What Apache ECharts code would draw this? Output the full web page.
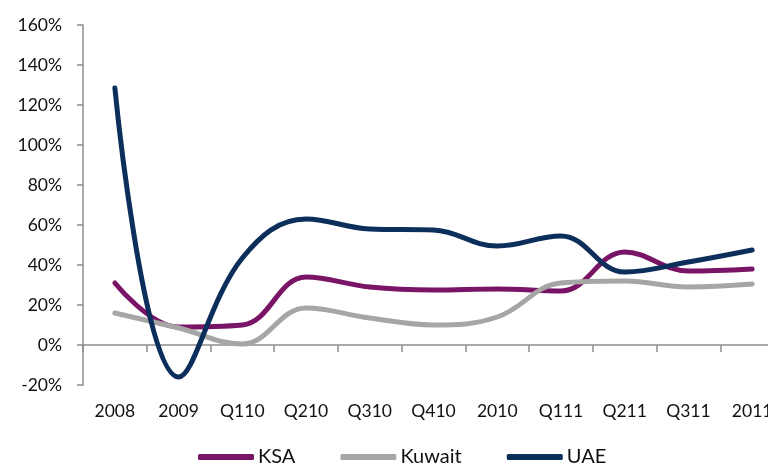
<!DOCTYPE html>
<html>
<head>
<meta charset="utf-8">
<style>
  html, body { margin: 0; padding: 0; background: #fff; }
  #chart { width: 768px; height: 467px; }
</style>
<script src="https://cdn.jsdelivr.net/npm/echarts@6/dist/echarts.min.js"></script>
</head>
<body>
<div id="chart"></div>
<script>
// Period labels along the x axis
const periods = ['2008', '2009', 'Q110', 'Q210', 'Q310', 'Q410', '2010', 'Q111', 'Q211', 'Q311', '2011'];

// Growth rates (%) per market
const ksa    = [31, 9, 10, 34, 29, 27.5, 28, 27, 46.5, 37, 38];
const kuwait = [16, 8.5, 0.5, 18.5, 13.5, 10, 14, 31, 32, 29, 30.5];
const uae    = [128.5, -16, 43.5, 63, 58, 57.5, 49.5, 54.5, 36.5, 41.5, 47.5];

// Y-axis range and step (%)
const yMin = -20, yMax = 160, yStep = 20;

const FONT = 'Lato, "Open Sans", sans-serif';
const AXIS_GREY = '#8c8c8c';

const chart = echarts.init(document.getElementById('chart'));

function lineSeries(name, data, color) {
  return {
    name: name,
    type: 'line',
    data: data,
    smooth: 0.4,
    symbol: 'none',
    lineStyle: { width: 5, color: color, cap: 'round', join: 'round' },
    itemStyle: { color: color }
  };
}

chart.setOption({
  animation: false,
  backgroundColor: '#ffffff',
  // the plot runs slightly past the right edge of the canvas
  grid: {
    left: 83, top: 25, height: 360, width: 701,
    containLabel: false,
    outerBoundsMode: 'none'
  },
  legend: {
    left: 193,
    top: 442,
    itemWidth: 56,
    itemHeight: 6,
    itemGap: 45,
    icon: 'roundRect',
    textStyle: { fontFamily: FONT, fontSize: 20, color: '#111', padding: [0, 0, 0, -1] },
    data: ['KSA', 'Kuwait', 'UAE']
  },
  xAxis: {
    type: 'category',
    data: periods,
    boundaryGap: true,
    axisLine: { onZero: true, lineStyle: { color: AXIS_GREY, width: 1.5 } },
    axisTick: { show: true, length: 7, lineStyle: { color: AXIS_GREY, width: 1.5 } },
    axisLabel: { margin: 17, fontFamily: FONT, fontSize: 17.5, color: '#111' },
    splitLine: { show: false }
  },
  yAxis: {
    type: 'value',
    min: yMin,
    max: yMax,
    interval: yStep,
    axisLine: { show: true, lineStyle: { color: AXIS_GREY, width: 1.5 } },
    axisTick: { show: true, length: 6, lineStyle: { color: AXIS_GREY, width: 1.5 } },
    axisLabel: { margin: 21, fontFamily: FONT, fontSize: 17.5, color: '#111', formatter: v => v + '%' },
    splitLine: { show: false }
  },
  series: [
    lineSeries('KSA', ksa, '#7a1466'),
    lineSeries('Kuwait', kuwait, '#a6a6a6'),
    lineSeries('UAE', uae, '#0c2e5a')
  ]
});
</script>
</body>
</html>
